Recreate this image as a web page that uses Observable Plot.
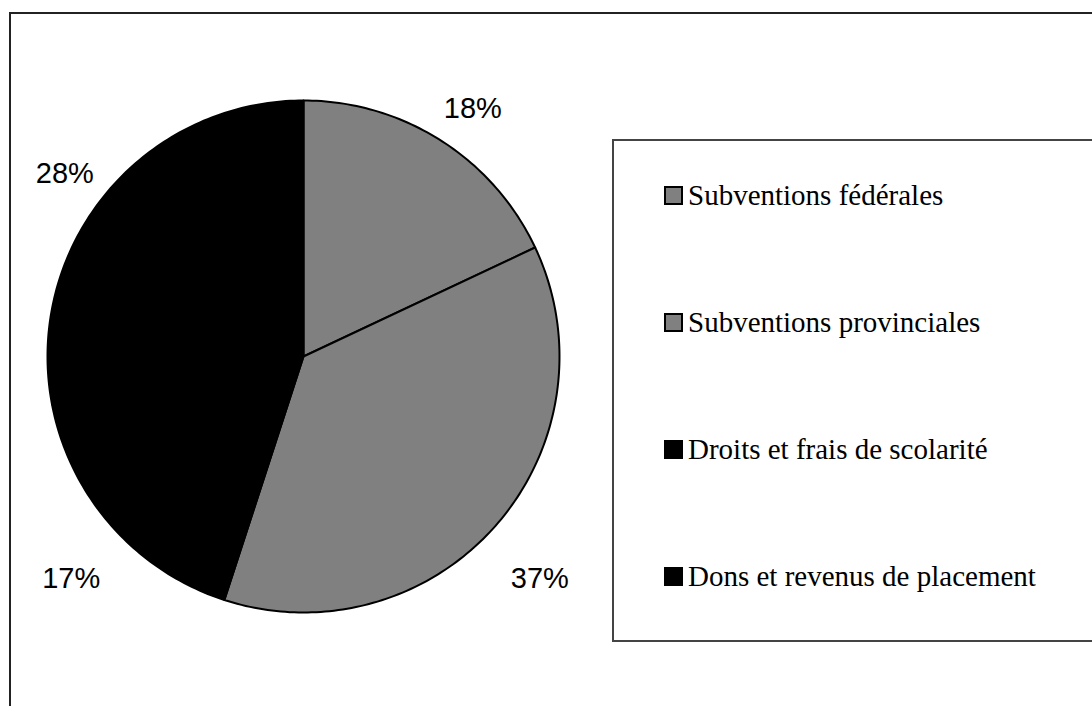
<!DOCTYPE html>
<html>
<head>
<meta charset="utf-8">
<script src="https://cdn.jsdelivr.net/npm/d3@7"></script>
<script src="https://cdn.jsdelivr.net/npm/@observablehq/plot@0.6"></script>
<style>
  html, body { margin: 0; padding: 0; background: #fff; width: 1092px; height: 706px; overflow: hidden; }
  #frame { position: absolute; left: 9px; top: 12px; width: 1200px; height: 800px; border: 2px solid #222; box-sizing: border-box; }
  #chart { position: absolute; left: 0; top: 0; }
  #legend { position: absolute; left: 612px; top: 139px; width: 600px; height: 503px; border: 2px solid #444; box-sizing: border-box; font-family: "Liberation Serif", "DejaVu Serif", serif; font-size: 29px; color: #000; }
  .item { position: absolute; left: 50px; display: flex; align-items: flex-end; white-space: nowrap; }
  .sw { width: 15px; height: 15px; border: 2px solid #000; margin-right: 5px; margin-bottom: 6px; }
</style>
</head>
<body>
<div id="frame"></div>
<div id="chart"></div>
<div id="legend"></div>
<script>
const categories = ["Subventions fédérales", "Subventions provinciales", "Droits et frais de scolarité", "Dons et revenus de placement"];
const values = [18, 37, 17, 28];
const labels = ["18%", "37%", "17%", "28%"];
const colors = ["#808080", "#808080", "#000000", "#000000"];

const total = d3.sum(values);
let acc = 0;
const slices = values.map((v, i) => {
  const a0 = acc / total * 2 * Math.PI;
  acc += v;
  const a1 = acc / total * 2 * Math.PI;
  return { name: categories[i], value: v, label: labels[i], color: colors[i], a0, a1, mid: (a0 + a1) / 2 };
});

const pts = [];
for (const s of slices) {
  pts.push({ name: s.name, color: s.color, x: 0, y: 0 });
  const n = Math.max(8, Math.ceil((s.a1 - s.a0) / (Math.PI / 180)));
  for (let k = 0; k <= n; k++) {
    const a = s.a0 + (s.a1 - s.a0) * k / n;
    pts.push({ name: s.name, color: s.color, x: Math.sin(a), y: Math.cos(a) });
  }
  pts.push({ name: s.name, color: s.color, x: 0, y: 0 });
}

const labelPts = slices.map(s => ({ label: s.label, x: 1.22 * Math.sin(s.mid), y: 1.22 * Math.cos(s.mid) }));

const plot = Plot.plot({
  width: 1092,
  height: 706,
  margin: 0,
  style: { background: "transparent", overflow: "visible" },
  x: { domain: [-1, 1], range: [47, 559], axis: null },
  y: { domain: [-1, 1], range: [612, 100], axis: null },
  color: { type: "identity" },
  marks: [
    Plot.line(pts, { x: "x", y: "y", z: "name", fill: "color", stroke: "#000", strokeWidth: 2, strokeLinejoin: "round", curve: "linear" }),
    Plot.text(labelPts, { x: "x", y: "y", text: "label", dx: 2, dy: 16, fontSize: 29, fontFamily: "Liberation Sans, Arial, sans-serif", fill: "#000" })
  ]
});
document.getElementById("chart").appendChild(plot);

const baselines = [209, 336, 463, 590];
const legend = d3.select("#legend");
categories.forEach((c, i) => {
  const it = legend.append("div").attr("class", "item").style("top", (baselines[i] - 139 - 31) + "px");
  it.append("div").attr("class", "sw").style("background", colors[i]);
  it.append("span").text(c).style("line-height", "31px").style("display", "inline-block").style("height", "31px");
});
</script>
</body>
</html>
